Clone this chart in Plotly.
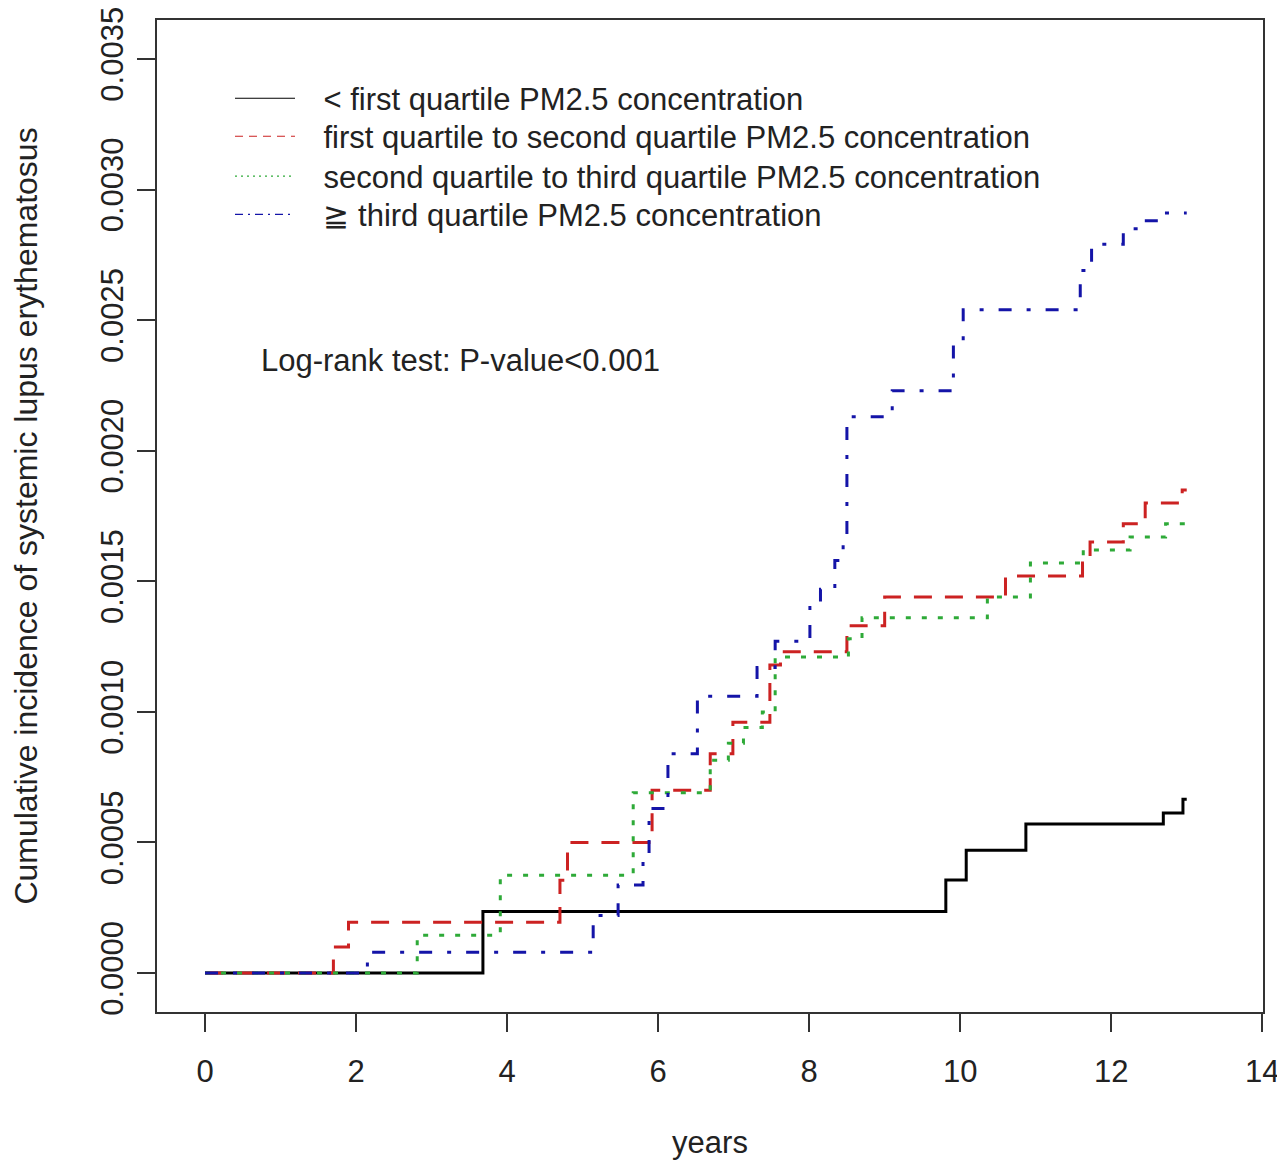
import plotly.graph_objects as go

# ---- data ----
t_q1 = [0, 3.68, 9.81, 10.08, 10.87, 12.69, 12.95, 13.0]
v_q1 = [0, 0.000236, 0.000356, 0.00047, 0.000571, 0.000613, 0.000666, 0.000666]

t_q12 = [0, 1.70, 1.90, 4.70, 4.80, 5.92, 6.69, 6.99, 7.48, 7.62, 8.50, 9.00,
         10.60, 11.62, 11.72, 12.16, 12.45, 12.94, 13.0]
v_q12 = [0, 0.0001, 0.000195, 0.000355, 0.0005, 0.0007, 0.00084, 0.00096, 0.00118,
         0.00123, 0.00133, 0.00144, 0.00152, 0.00157, 0.00165, 0.00172, 0.0018,
         0.00185, 0.00185]

t_q23 = [0, 2.81, 3.91, 5.67, 6.69, 6.93, 7.13, 7.38, 7.55, 8.52, 8.70, 10.36,
         10.93, 11.63, 12.25, 12.72, 13.0]
v_q23 = [0, 0.000145, 0.000375, 0.00069, 0.000815, 0.00088, 0.00094, 0.001,
         0.00121, 0.00128, 0.00136, 0.00144, 0.00157, 0.00162, 0.00167, 0.00172,
         0.00172]

t_q3 = [0, 2.15, 5.14, 5.47, 5.80, 5.88, 6.13, 6.52, 7.31, 7.55, 8.01, 8.15, 8.34,
        8.45, 8.50, 9.10, 9.91, 10.04, 11.59, 11.74, 12.16, 12.38, 12.65, 13.0]
v_q3 = [0, 0.00008, 0.00022, 0.000337, 0.00045, 0.00063, 0.00084, 0.00106, 0.00117,
        0.00127, 0.0014, 0.00147, 0.00158, 0.00166, 0.00213, 0.00223, 0.00242,
        0.00254, 0.00269, 0.00279, 0.00285, 0.00288, 0.00291, 0.00291]

labels = ["< first quartile PM2.5 concentration",
          "first quartile to second quartile PM2.5 concentration",
          "second quartile to third quartile PM2.5 concentration",
          "\u2267 third quartile PM2.5 concentration"]
x_ticks = [0, 2, 4, 6, 8, 10, 12, 14]
y_ticks = [0.0, 0.0005, 0.0010, 0.0015, 0.0020, 0.0025, 0.0030, 0.0035]
y_ticklabels = ["0.0000", "0.0005", "0.0010", "0.0015", "0.0020", "0.0025", "0.0030", "0.0035"]

colors = ["#000000", "#cc2222", "#2eaa38", "#1414a8"]
dashes_main = ["solid", "18px,13px", "5px,11px", "13px,15px,4px,15px"]
dashes_leg = ["solid", "8px,6px", "2px,4px", "8px,5px,2px,5px"]

series = [(t_q1, v_q1), (t_q12, v_q12), (t_q23, v_q23), (t_q3, v_q3)]

FONT = "Liberation Sans, Arial, sans-serif"
FS = 31
PAD = "\u00a0\u00a0\u2009"
legend_names = ["legend", "legend2", "legend3", "legend4"]
legend_y = [0.948, 0.9097, 0.8694, 0.831]

fig = go.Figure()
for (t, v), c, d in zip(series, colors, dashes_main):
    fig.add_trace(go.Scatter(x=t, y=v, mode="lines", line=dict(color=c, width=3, dash=d, shape="hv"),
                             showlegend=False, hoverinfo="skip"))
# legend entries (thin lines, as in the reference legend), one legend box per row
for lab, c, d, lg in zip(labels, colors, dashes_leg, legend_names):
    fig.add_trace(go.Scatter(x=[None], y=[None], mode="lines", name=PAD + lab,
                             line=dict(color=c, width=1.2, dash=d), legend=lg, showlegend=True))

fig.add_annotation(x=0.72, y=0.002347, xref="x", yref="y", text="Log-rank test: P-value<0.001",
                   showarrow=False, xanchor="left", yanchor="middle",
                   font=dict(family=FONT, size=FS, color="#222222"))

axis_common = dict(showline=True, mirror=True, linecolor="#333333", linewidth=1.5,
                   ticks="outside", ticklen=18, tickwidth=1.5, tickcolor="#333333",
                   showgrid=False, zeroline=False, automargin=False, ticklabeloverflow="allow")

legend_style = dict(x=0.066, xanchor="left", yanchor="top", bgcolor="rgba(0,0,0,0)",
                    font=dict(size=FS, color="#222222", family=FONT), itemwidth=60)

fig.update_layout(
    template="none",
    width=1277, height=1152,
    margin=dict(l=149, r=22, t=12, b=148),
    paper_bgcolor="white", plot_bgcolor="white",
    font=dict(family=FONT, color="#222222", size=FS),
    xaxis=dict(range=[-0.636, 14.01], tickvals=x_ticks, tickfont=dict(size=FS),
               title=dict(text="years", font=dict(size=FS), standoff=60),
               ticklabelstandoff=13, **axis_common),
    yaxis=dict(range=[-0.000149, 0.003649], tickvals=y_ticks, ticktext=y_ticklabels,
               tickangle=-90, tickfont=dict(size=FS),
               title=dict(text="Cumulative incidence of systemic lupus erythematosus",
                          font=dict(size=32), standoff=48),
               ticklabelstandoff=2, **axis_common),
    showlegend=True,
)
layout_legends = {lg: dict(y=yy, **legend_style) for lg, yy in zip(legend_names, legend_y)}
fig.update_layout(**layout_legends)

fig.write_html("out.html")
